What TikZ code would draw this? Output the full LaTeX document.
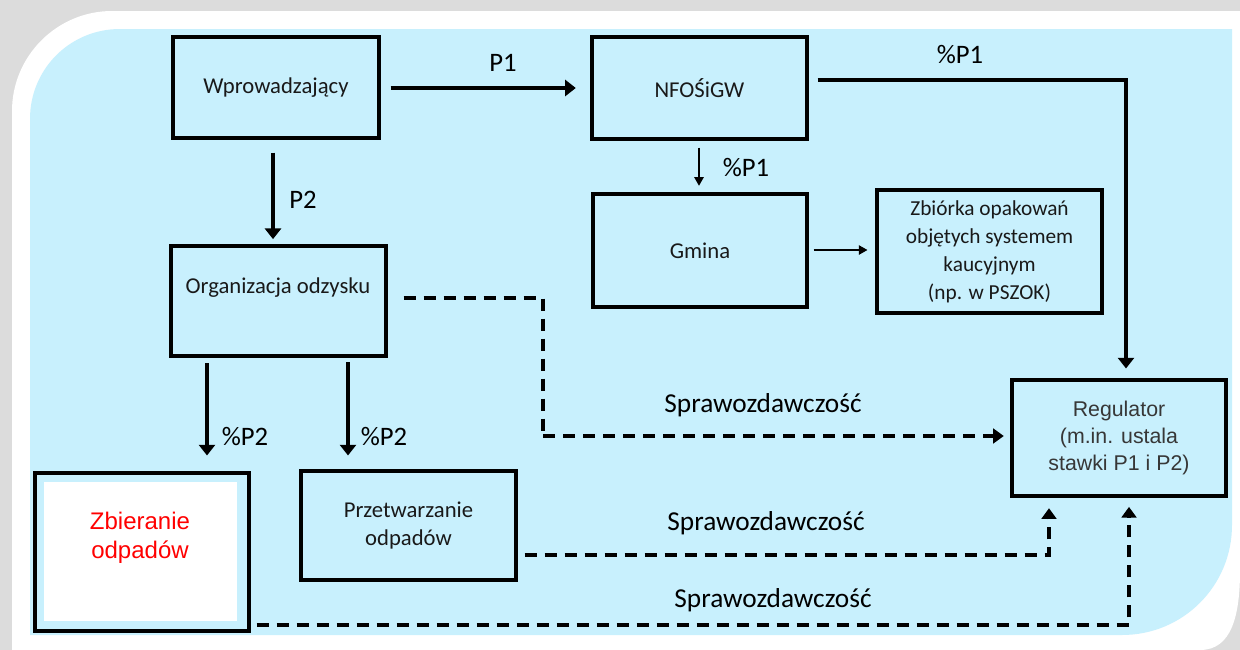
\documentclass[tikz,border=0pt]{standalone}
\usepackage{fontspec}
\setmainfont{Carlito}
\newfontfamily\arialf{Liberation Sans}
\usetikzlibrary{arrows.meta,calc}
\definecolor{bgblue}{RGB}{200,240,253}
\definecolor{framegrey}{RGB}{220,220,220}
\definecolor{txt}{RGB}{25,25,25}
\definecolor{regtxt}{RGB}{55,55,55}
\begin{document}
\begin{tikzpicture}[x=0.75pt,y=-0.75pt,
  box/.style={draw=black,line width=2.3pt,inner sep=0pt,align=center,text=txt,
    font=\fontsize{17}{21}\selectfont},
  lbl/.style={inner sep=0pt,text=black,font=\fontsize{20}{24}\selectfont},
  arr/.style={line width=2.3pt,-{Triangle[length=8pt,width=12pt]}},
  tarr/.style={line width=1.2pt,-{Triangle[length=6.5pt,width=7pt]}},
  dsh/.style={line width=2.3pt,dash pattern=on 9pt off 6pt,-{Triangle[length=8pt,width=11pt]}},
  dshl/.style={line width=2.3pt,dash pattern=on 9pt off 6pt}]
\useasboundingbox (0,0) rectangle (1240,650);
% frame
\fill[framegrey] (0,0) rectangle (1240,650);
\fill[white] (12,650) -- (12,111) .. controls (12,56) and (57,11) .. (112,11) -- (1240,11) -- (1240,570) .. controls (1240,615) and (1232,650) .. (1200,650) -- cycle;
\fill[bgblue] (30,635) -- (30,119) .. controls (30,69) and (70,29) .. (120,29) -- (1232,29) -- (1232,525) .. controls (1232,586) and (1183,635) .. (1122,635) -- cycle;

% boxes
\node[box,minimum width=154.5pt,minimum height=75.75pt] (wpr) at (276,87.5) {Wprowadzający};
\node[box,minimum width=161.25pt,minimum height=76.5pt] (nfos) at (699.5,88) {NFOŚiGW};
\node[box,minimum width=160.5pt,minimum height=84.75pt] (gmina) at (700,250.5) {Gmina};
\node[box,minimum width=168.75pt,minimum height=92.25pt,font=\fontsize{16}{21}\selectfont] (zb) at (989.5,251.5)
  {Zbiórka opakowań\\objętych systemem\\kaucyjnym\\(np. w PSZOK)};
\node[box,minimum width=160.5pt,minimum height=87pt,text=regtxt,font=\arialf\fontsize{16}{20.25}\selectfont] (reg) at (1119,438)
  {Regulator\\(m.in. ustala\\stawki P1 i P2)};
\node[box,minimum width=161.25pt,minimum height=82.5pt] (org) at (278.5,301) {};
\node[inner sep=0pt,text=txt,font=\fontsize{17}{21}\selectfont] (orgt) at (278,288) {Organizacja odzysku};
\node[box,minimum width=160.5pt,minimum height=118.5pt] (zbier) at (142,552) {};
\node[fill=white,inner sep=0pt,minimum width=144.75pt,minimum height=104.25pt] (zbierin) at (140.5,551.5) {};
\node[inner sep=0pt,align=center,text=red,font=\arialf\fontsize{18}{22}\selectfont] (zbiert) at (140,537.5) {Zbieranie\\odpadów};
\node[box,minimum width=161.25pt,minimum height=81.75pt] (przet) at (408.5,525.5) {Przetwarzanie\\odpadów};

% solid arrows
\draw[arr,shorten >=11pt] ($(wpr.east)+(10,0.5)$) -- (nfos.west |- 0,88);
\node[lbl] (lp1) at (503,63) {P1};
\draw[arr,shorten >=4pt] ($(wpr.south)+(-3,13)$) -- ($(org.north)+(-5.5,0)$);
\node[lbl] (lp2) at (303,200) {P2};
\coordinate (c0) at (1126,80);
\draw[arr,shorten >=7.5pt] ($(nfos.east)+(9,-8)$) -- (c0) -- (c0 |- reg.north);
\node[lbl] (lp1b) at (960,55) {\%P1};
\draw[tarr,shorten >=5pt] ($(nfos.south)+(-0.5,7)$) -- ($(gmina.north)+(-1,0)$);
\node[lbl] (lp1c) at (746,168) {\%P1};
\draw[tarr,shorten >=6pt] ($(gmina.east)+(5,-0.5)$) -- (zb.west |- 0,250);
\coordinate (c3) at (207,363);
\draw[arr,shorten >=12pt] (c3) -- (c3 |- zbier.north);
\node[lbl] (lp2a) at (245,437) {\%P2};
\coordinate (c4) at (348,362);
\draw[arr,shorten >=10.5pt] (c4) -- (c4 |- przet.north);
\node[lbl] (lp2b) at (384,437) {\%P2};

% dashed reporting
\coordinate (c1) at (543,436);
\draw[dshl] ($(org.east)+(16,-3)$) -| (c1);
\draw[dsh,shorten >=5pt] (c1) -- (c1 -| reg.west);
\node[lbl,font=\fontsize{20.5}{24}\selectfont] (s1) at (763,405) {Sprawozdawczość};
\coordinate (c2) at (1049,555);
\draw[dsh,shorten >=8pt] ($(przet.east)+(7,29.5)$) -- (c2) -- (c2 |- reg.south);
\node[lbl,font=\fontsize{20.5}{24}\selectfont] (s2) at (766,523) {Sprawozdawczość};
\coordinate (c5) at (1129,625);
\draw[dsh,shorten >=7pt] ($(zbier.east)+(6,73)$) -- (c5) -- (c5 |- reg.south);
\node[lbl,font=\fontsize{20.5}{24}\selectfont] (s3) at (773,600) {Sprawozdawczość};
\end{tikzpicture}
\end{document}
